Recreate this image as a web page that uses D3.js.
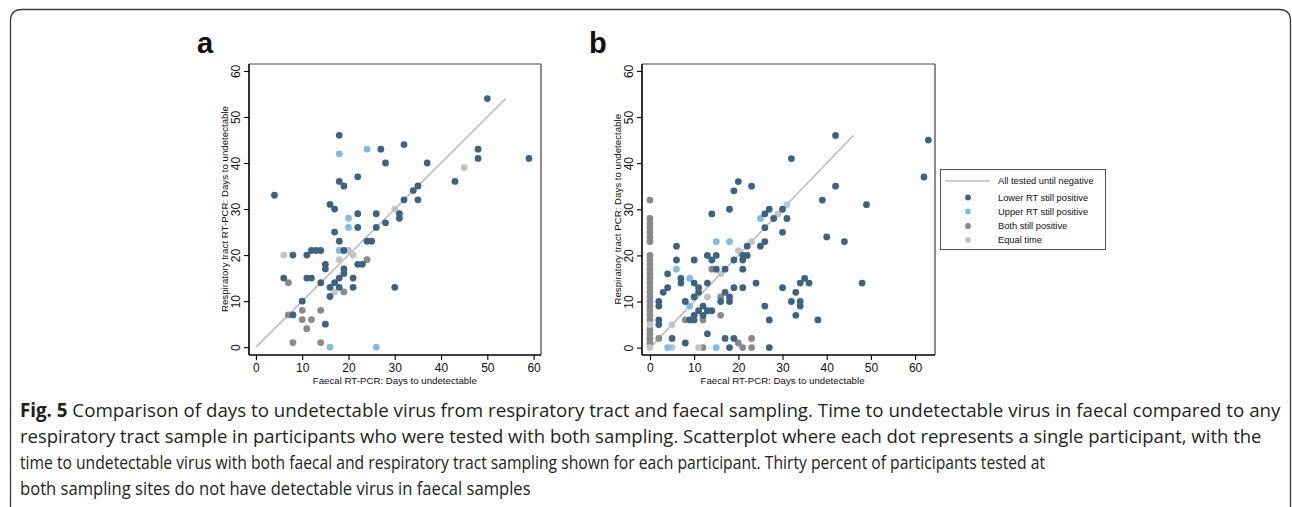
<!DOCTYPE html>
<html><head><meta charset="utf-8">
<script src="https://cdn.jsdelivr.net/npm/d3@7"></script>
<style>
html,body{margin:0;padding:0;background:#fff;}
svg{display:block;}
</style></head>
<body>
<svg id="chart" width="1292" height="507"></svg>
<script>
// ---------------- DATA ----------------
const ticks = [0, 10, 20, 30, 40, 50, 60];
const xTitle = "Faecal RT-PCR: Days to undetectable";
const yTitleA = "Respiratory tract RT-PCR: Days to undetectable";
const yTitleB = "Respiratory tract PCR: Days to undetectable";
const groups = ["Lower RT still positive", "Upper RT still positive", "Both still positive", "Equal time"];
const lineLabel = "All tested until negative";

// Panel a: [faecal days, respiratory days]
const aLower = [[18,46],[27,43],[28,40],[18,36],[19,35],[22,37],[4,33],[16,31],[17,30],[50,54],[32,44],[48,43],[48,41],[59,41],[37,40],[43,36],[35,35],[34,34],[32,32],[35,32],[31,29],[31,28],[22,29],[22,26],[26,29],[26,26],[28,27],[17,25],[18,23],[24,23],[25,23],[19,21],[12,21],[13,21],[14,21],[8,20],[11,20],[22,18],[23,18],[15,18],[15,17],[19,17],[19,16],[18,15],[21,15],[6,15],[11,15],[12,15],[14,14],[17,14],[16,13],[18,13],[21,13],[30,13],[16,11],[10,10],[8,7],[15,5]];
const aUpper = [[18,42],[24,43],[20,28],[20,26],[18,21],[16,0],[26,0]];
const aBoth = [[24,19],[7,14],[19,12],[10,8],[14,8],[7,7],[10,6],[12,6],[11,4],[8,1],[14,1]];
const aEqual = [[45,39],[30,30],[20,21],[21,20],[6,20],[18,19],[17,12]];
const aLineEnd = 54;

// Panel b
const bLower = [[20,36],[23,35],[19,34],[18,30],[42,46],[63,45],[32,41],[62,37],[42,35],[39,32],[49,31],[27,30],[30,30],[26,29],[28,28],[31,28],[26,26],[30,25],[40,24],[44,23],[26,23],[25,22],[35,15],[34,14],[36,14],[48,14],[30,13],[33,12],[32,10],[34,10],[34,9],[26,9],[33,7],[38,6],[27,6],[27,0],[14,29],[6,22],[22,22],[21,20],[22,20],[21,19],[19,19],[13,20],[14,19],[15,20],[10,19],[6,19],[21,17],[24,14],[21,13],[4,16],[7,15],[7,14],[4,13],[3,12],[10,14],[11,13],[11,12],[13,14],[2,10],[2,9],[2,6],[2,5],[5,2],[8,1],[18,0],[13,3],[17,2],[19,2],[9,6],[10,6],[14,8],[13,8],[16,10],[18,10],[18,11],[17,12],[19,13],[8,10],[10,11],[15,17],[17,17],[11,8],[12,9],[10,7],[12,7]];
const bUpper = [[25,28],[15,23],[18,23],[6,17],[9,15],[9,9],[4,0],[15,0]];
const bBoth = [[0,32],[0,28],[0,27],[0,26],[0,25],[0,24],[0,23],[0,20],[0,19],[0,18],[0,17],[0,16],[0,15],[0,14],[0,13],[0,12],[0,11],[0,10],[0,9],[0,8],[0,7],[0,6],[0,4],[0,3],[0,2],[0,1],[2,2],[12,0],[20,1],[21,0],[23,2],[23,0],[8,6],[12,6],[16,7],[14,17],[16,11]];
const bEqual = [[31,31],[29,29],[23,23],[20,21],[5,5],[0,5],[0,0],[5,0],[11,0],[13,11],[16,16]];
const bLineEnd = 46;

const captionBold = "Fig. 5";
const captionLines = [
  " Comparison of days to undetectable virus from respiratory tract and faecal sampling. Time to undetectable virus in faecal compared to any",
  "respiratory tract sample in participants who were tested with both sampling. Scatterplot where each dot represents a single participant, with the",
  "time to undetectable virus with both faecal and respiratory tract sampling shown for each participant. Thirty percent of participants tested at",
  "both sampling sites do not have detectable virus in faecal samples"
];

// ---------------- STYLE ----------------
const colors = ["#3c6482", "#7dbde9", "#8a8a8a", "#c3c3c3"];
const lineColor = "#bdbdbd";
const font = "Liberation Sans, Arial, sans-serif";

const svg = d3.select("#chart");

// outer frame
svg.append("path")
  .attr("d", "M10.5,507 L10.5,21 Q10.5,9.5 22,9.5 L1279,9.5 Q1290.5,9.5 1290.5,21 L1290.5,507")
  .attr("fill", "none").attr("stroke", "#3a3a3a").attr("stroke-width", 1.3);

function panel(cfg) {
  const x = d3.scaleLinear().domain(cfg.xd).range([cfg.left, cfg.right]);
  const y = d3.scaleLinear().domain(cfg.yd).range([cfg.bottom, cfg.top]);
  const g = svg.append("g");

  g.append("line").attr("x1", cfg.left).attr("x2", cfg.right).attr("y1", cfg.top).attr("y2", cfg.top)
    .attr("stroke", "#a3a3a3").attr("stroke-width", 1.8);
  g.append("line").attr("x1", cfg.right).attr("x2", cfg.right).attr("y1", cfg.top).attr("y2", cfg.bottom)
    .attr("stroke", "#5a5a5a").attr("stroke-width", 1.4);

  const ax = g.append("g").attr("transform", `translate(0,${cfg.bottom})`)
    .call(d3.axisBottom(x).tickValues(ticks).tickSize(5).tickSizeOuter(0).tickPadding(3));
  const ay = g.append("g").attr("transform", `translate(${cfg.left},0)`)
    .call(d3.axisLeft(y).tickValues(ticks).tickSize(5).tickSizeOuter(0).tickPadding(3));
  [ax, ay].forEach(a => {
    a.select(".domain").attr("stroke", "#000").attr("stroke-width", 1.6);
    a.selectAll(".tick line").attr("stroke", "#000").attr("stroke-width", 1.1);
    a.selectAll("text").attr("font-family", font).attr("font-size", 12).attr("fill", "#111");
  });
  ax.select(".domain").attr("d", `M${cfg.left},0H${cfg.right}`);
  ay.select(".domain").attr("d", `M0,${cfg.top}V${cfg.bottom}`);
  ay.selectAll(".tick text")
    .attr("x", null).attr("dy", null)
    .attr("text-anchor", "middle")
    .attr("transform", "translate(-9,0) rotate(-90)");

  g.append("line")
    .attr("x1", x(0)).attr("y1", y(0)).attr("x2", x(cfg.lineEnd)).attr("y2", y(cfg.lineEnd))
    .attr("stroke", lineColor).attr("stroke-width", 1.6);

  const sets = [[cfg.both, colors[2]], [cfg.equal, colors[3]], [cfg.upper, colors[1]], [cfg.lower, colors[0]]];
  sets.forEach(([data, c]) => {
    g.append("g").selectAll("circle").data(data).join("circle")
      .attr("cx", d => x(d[0])).attr("cy", d => y(d[1])).attr("r", 3.4).attr("fill", c);
  });

  g.append("text").attr("x", (x(0) + x(60)) / 2).attr("y", 384)
    .attr("text-anchor", "middle").attr("font-family", font).attr("font-size", 9.7).attr("fill", "#111")
    .text(xTitle);
  g.append("text").attr("transform", `translate(${cfg.left - 21},${(y(0) + y(60)) / 2}) rotate(-90)`)
    .attr("text-anchor", "middle").attr("font-family", font).attr("font-size", 9.7).attr("fill", "#111")
    .text(cfg.yTitle);
  g.append("text").attr("x", cfg.letterX).attr("y", 53)
    .attr("font-family", font).attr("font-weight", "bold").attr("font-size", 29).attr("fill", "#111")
    .text(cfg.letter);
}

panel({left: 249, right: 541, top: 64, bottom: 355, xd: [-1.5, 61.6], yd: [-1.7, 61.5],
  lower: aLower, upper: aUpper, both: aBoth, equal: aEqual, lineEnd: aLineEnd,
  yTitle: yTitleA, letter: "a", letterX: 197});
panel({left: 642, right: 935, top: 64, bottom: 355, xd: [-1.8, 64.5], yd: [-1.6, 61.5],
  lower: bLower, upper: bUpper, both: bBoth, equal: bEqual, lineEnd: bLineEnd,
  yTitle: yTitleB, letter: "b", letterX: 589});

// legend
const lg = svg.append("g");
lg.append("rect").attr("x", 940.5).attr("y", 169.5).attr("width", 165).attr("height", 80)
  .attr("fill", "#fff").attr("stroke", "#555").attr("stroke-width", 1);
const rowsY = [181, 197.5, 211.5, 226, 240];
lg.append("line").attr("x1", 945).attr("x2", 990).attr("y1", rowsY[0]).attr("y2", rowsY[0])
  .attr("stroke", lineColor).attr("stroke-width", 1.6);
lg.append("text").attr("x", 998).attr("y", rowsY[0] + 3.3).attr("font-family", font).attr("font-size", 9.3)
  .attr("fill", "#111").text(lineLabel);
groups.forEach((gname, i) => {
  lg.append("circle").attr("cx", 968).attr("cy", rowsY[i + 1]).attr("r", 2.9).attr("fill", colors[i]);
  lg.append("text").attr("x", 998).attr("y", rowsY[i + 1] + 3.3).attr("font-family", font).attr("font-size", 9.3)
    .attr("fill", "#111").text(gname);
});

// caption: condensed look via horizontal scaling to the reference line widths
const cap = svg.append("g");
const capY = [417, 443, 469, 495];
const capLen = [1261, 1242, 1026, 511];
captionLines.forEach((t, i) => {
  const wrap = cap.append("g");
  const txt = wrap.append("text").attr("x", 0).attr("y", 0)
    .attr("font-family", "Open Sans, sans-serif").attr("font-size", 19).attr("fill", "#231f20");
  if (i === 0) {
    txt.append("tspan").attr("font-weight", "bold").text(captionBold);
    txt.append("tspan").text(t);
  } else {
    txt.text(t);
  }
  const w = txt.node().getComputedTextLength();
  const sx = capLen[i] / w;
  wrap.attr("transform", `translate(20,${capY[i]}) scale(${sx},1)`);
});
</script>
</body></html>
